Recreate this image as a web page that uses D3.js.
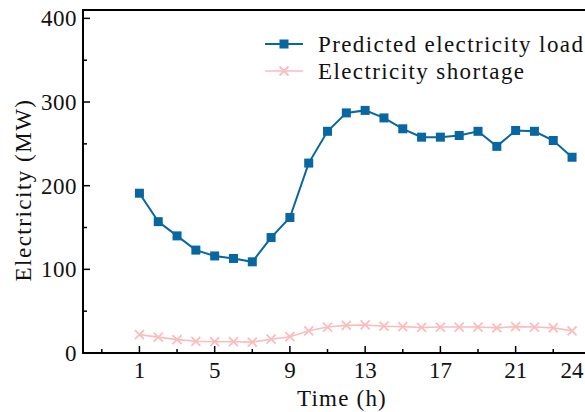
<!DOCTYPE html>
<html>
<head>
<meta charset="utf-8">
<script src="https://cdn.jsdelivr.net/npm/d3@7"></script>
<style>
  html, body { margin: 0; padding: 0; background: #fff; }
  svg { display: block; }
  text { font-family: "Liberation Serif", "Times New Roman", serif; fill: #111; }
</style>
</head>
<body>
<svg id="chart" width="585" height="412"></svg>
<script>
// hours 1..24
const hours = d3.range(1, 25);
const loadMW = [191, 157, 140, 123, 116, 113, 109, 138, 162, 227, 265, 287, 290, 281, 268, 258, 258, 260, 265, 247, 266, 265, 254, 234];
const shortageMW = [22, 19, 16, 14, 13.5, 13.5, 13, 16.5, 19.5, 26.5, 31, 33, 33.5, 32, 31.5, 30.5, 31, 31, 31, 30, 31.5, 31, 30, 26.5];
const seriesNames = ["Predicted electricity load", "Electricity shortage"];
const yMajor = [0, 100, 200, 300, 400];
const yMinor = [50, 150, 250, 350];
const xMajor = [1, 5, 9, 13, 17, 21];
const xMinor = [-1, 3, 7, 11, 15, 19, 23];
const xLabels = [1, 5, 9, 13, 17, 21, 24];

const BLUE = "#0866a1", PINK = "#fbbcbc";
const FS = 23;
const svg = d3.select("#chart");
const L = 83, B = 353, T = 10;
const x = d3.scaleLinear().domain([-2, 25]).range([L, L + 27 * 18.81]);
const y = d3.scaleLinear().domain([0, 410]).range([B, T]);

// frame
const ax = svg.append("g").attr("stroke", "#000").attr("stroke-width", 2);
ax.append("line").attr("x1", L).attr("x2", L).attr("y1", T - 1).attr("y2", B + 1);
ax.append("line").attr("x1", L - 1).attr("x2", 600).attr("y1", B).attr("y2", B);
ax.append("line").attr("x1", L - 1).attr("x2", 600).attr("y1", T).attr("y2", T);

// y ticks (inward)
ax.selectAll(".ymaj").data(yMajor).join("line")
  .attr("x1", L).attr("x2", L + 7).attr("y1", d => y(d)).attr("y2", d => y(d)).attr("stroke-width", 1.5);
ax.selectAll(".ymin").data(yMinor).join("line").attr("class", "ymin")
  .attr("x1", L).attr("x2", L + 4).attr("y1", d => y(d)).attr("y2", d => y(d)).attr("stroke-width", 1.5);
svg.append("g").selectAll("text").data(yMajor).join("text")
  .attr("x", L - 6).attr("y", d => y(d)).attr("dy", "0.35em")
  .attr("text-anchor", "end").attr("font-size", FS).attr("letter-spacing", 0.5).text(d => d);

// x ticks (inward)
ax.selectAll(".xmaj").data(xMajor).join("line").attr("class", "xmaj")
  .attr("x1", d => x(d)).attr("x2", d => x(d)).attr("y1", B).attr("y2", B - 7).attr("stroke-width", 1.5);
ax.selectAll(".xmin").data(xMinor).join("line").attr("class", "xmin")
  .attr("x1", d => x(d)).attr("x2", d => x(d)).attr("y1", B).attr("y2", B - 4).attr("stroke-width", 1.5);
svg.append("g").selectAll("text").data(xLabels).join("text")
  .attr("x", d => x(d)).attr("y", 378)
  .attr("text-anchor", "middle").attr("font-size", FS).text(d => d);

// axis titles
svg.append("text").attr("x", 342).attr("y", 406).attr("text-anchor", "middle")
  .attr("font-size", FS).attr("letter-spacing", 1.2).text("Time (h)");
svg.append("text").attr("transform", "translate(31,190) rotate(-90)").attr("text-anchor", "middle")
  .attr("font-size", FS).attr("letter-spacing", 1.5).text("Electricity (MW)");

// series
const line = d3.line().x((d, i) => x(hours[i])).y(d => y(d));
svg.append("path").datum(shortageMW).attr("d", line)
  .attr("fill", "none").attr("stroke", PINK).attr("stroke-width", 1.6);
const crossPath = s => `M${-s},${-s}L${s},${s}M${-s},${s}L${s},${-s}`;
svg.append("g").selectAll("path").data(shortageMW).join("path")
  .attr("transform", (d, i) => `translate(${x(hours[i])},${y(d)})`)
  .attr("d", crossPath(4.5)).attr("stroke", PINK).attr("stroke-width", 1.8).attr("fill", "none");

svg.append("path").datum(loadMW).attr("d", line)
  .attr("fill", "none").attr("stroke", BLUE).attr("stroke-width", 2);
svg.append("g").selectAll("rect").data(loadMW).join("rect")
  .attr("x", (d, i) => x(hours[i]) - 4.5).attr("y", d => y(d) - 4.5)
  .attr("width", 9).attr("height", 9).attr("fill", BLUE);

// legend
const lg = svg.append("g").attr("transform", "translate(265,44)");
const rowH = 27;
seriesNames.forEach((nm, i) => {
  const g = lg.append("g").attr("transform", `translate(0,${i * rowH})`);
  const col = i === 0 ? BLUE : PINK;
  g.append("line").attr("x1", 0).attr("x2", 38).attr("stroke", col).attr("stroke-width", i === 0 ? 2 : 1.6);
  if (i === 0) g.append("rect").attr("x", 14.5).attr("y", -4.5).attr("width", 9).attr("height", 9).attr("fill", col);
  else g.append("path").attr("transform", "translate(19,0)").attr("d", crossPath(4.5))
    .attr("stroke", col).attr("stroke-width", 1.8);
  g.append("text").attr("x", 53).attr("y", 8).attr("font-size", FS)
    .attr("letter-spacing", 1.4).text(nm);
});
</script>
</body>
</html>
